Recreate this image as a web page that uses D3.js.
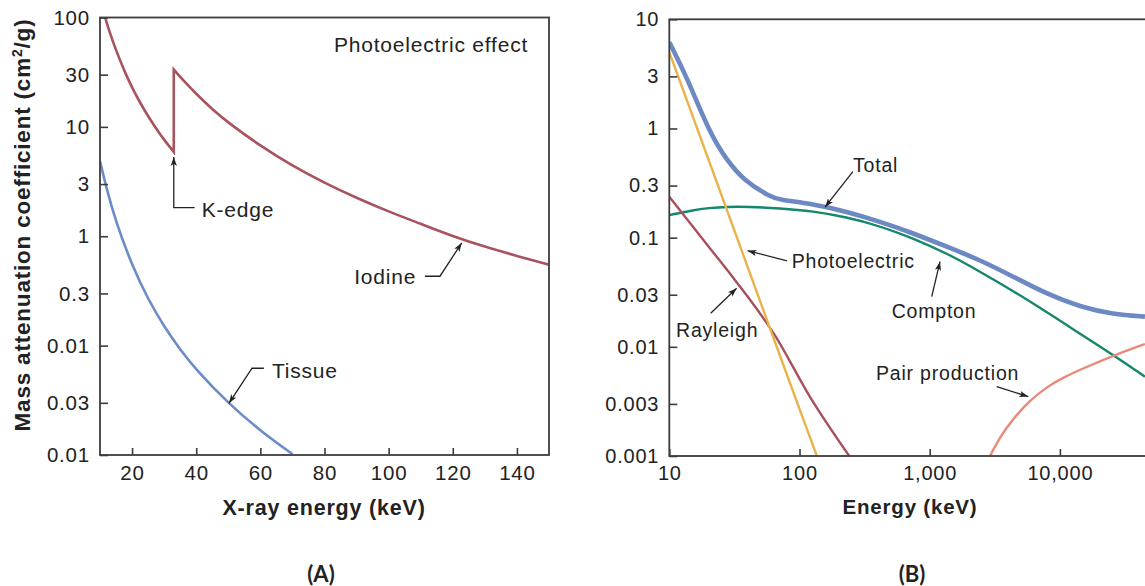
<!DOCTYPE html>
<html><head><meta charset="utf-8">
<script src="https://cdn.jsdelivr.net/npm/d3@7"></script>
<style>
body{margin:0;background:#fff;}
svg{display:block;}
text{font-family:"Liberation Sans",Arial,sans-serif;fill:#222;}
.pa .tick text{font-size:20.5px;letter-spacing:0.8px;}
.pb .tick text{font-size:20px;letter-spacing:0.8px;}
.pa .lab{font-size:21px;letter-spacing:0.8px;}
.pb .lab{font-size:19.5px;letter-spacing:0.8px;}
.title{font-weight:bold;letter-spacing:0.8px;}
.panel{font-family:Lato,"Open Sans",sans-serif;font-size:22px;font-weight:bold;}
</style></head>
<body>
<svg id="chart" width="1145" height="586"></svg>
<script>
// ---------- Panel A data ----------
const iodineLowE  = [11.6, 13, 15, 18, 20, 22.5, 25, 28, 30, 33];
const iodineLowV  = [100, 73, 50, 30.4, 22.9, 16.6, 12.5, 9.2, 7.6, 5.9];
const iodineHighE = [33, 36, 40, 45, 50, 60, 70, 80, 90, 100, 110, 120, 130, 140, 150];
const iodineHighV = [33.5, 26.5, 20, 14.5, 10.9, 6.7, 4.4, 3.07, 2.24, 1.68, 1.3, 1.0, 0.8, 0.66, 0.55];
const tissueE = [10, 12, 15, 20, 25, 30, 35, 40, 50, 60, 70];
const tissueV = [4.86, 2.75, 1.34, 0.54, 0.265, 0.149, 0.092, 0.060, 0.0297, 0.0166, 0.0102];
const aXTicks = [20, 40, 60, 80, 100, 120, 140];
const aYTicks = [100, 30, 10, 3, 1, 0.3, 0.1, 0.03, 0.01];
const aYTickLabels = ["100", "30", "10", "3", "1", "0.3", "0.01", "0.03", "0.01"];

// ---------- Panel B data ----------
const totalE = [10, 13.6, 20.5, 27.6, 37, 59.3, 70, 127, 230, 415, 745, 1350, 2430, 4370, 7900, 14300, 25600, 45000];
const totalV = [6.16, 2.98, 0.90, 0.515, 0.338, 0.237, 0.222, 0.2035, 0.173, 0.140, 0.110, 0.0827, 0.0625, 0.044, 0.0305, 0.0232, 0.0198, 0.0189];
const comptonE = [10, 15, 20, 28, 40, 70, 127, 230, 400, 745, 1350, 2430, 4370, 7900, 12500, 25700, 45000];
const comptonV = [0.161, 0.178, 0.187, 0.192, 0.192, 0.186, 0.175, 0.154, 0.13, 0.0987, 0.072, 0.049, 0.0325, 0.0209, 0.0146, 0.00843, 0.00533];
const photoE = [10, 15, 20, 30, 50, 70, 100, 136];
const photoV = [5.0, 1.33, 0.52, 0.138, 0.0259, 0.0086, 0.0027, 0.001];
const rayleighE = [10, 20, 31.9, 64.6, 120, 241];
const rayleighV = [0.237, 0.083, 0.041, 0.0128, 0.0035, 0.001];
const pairE = [2905, 3500, 4385, 5870, 8000, 10620, 17020, 25700, 45000];
const pairV = [0.001, 0.00153, 0.0022, 0.00322, 0.00432, 0.00526, 0.00676, 0.00831, 0.0106];
const bXTicks = [10, 100, 1000, 10000];
const bXTickLabels = ["10", "100", "1,000", "10,000"];
const bYTicks = [10, 3, 1, 0.3, 0.1, 0.03, 0.01, 0.003, 0.001];
const bYTickLabels = ["10", "3", "1", "0.3", "0.1", "0.03", "0.01", "0.003", "0.001"];

const svg = d3.select("#chart");
const frameColor = "#3c3c3c";

svg.append("defs").append("marker")
  .attr("id", "arr").attr("viewBox", "0 0 10 10").attr("refX", 10).attr("refY", 5)
  .attr("markerWidth", 9).attr("markerHeight", 9).attr("markerUnits", "userSpaceOnUse")
  .attr("orient", "auto")
  .append("path").attr("d", "M0,1.5 L10,5 L0,8.5 L2.5,5 Z").attr("fill", "#222");

function zip(E, V) { return E.map((e, i) => ({e: e, v: V[i]})); }

function frame(g, x, y) {
  const [x0, x1] = x.range(), [y0, y1] = y.range();
  g.append("rect").attr("x", x0).attr("y", y1).attr("width", x1 - x0).attr("height", y0 - y1)
    .attr("fill", "none").attr("stroke", frameColor).attr("stroke-width", 1.8);
}
function clip(id, x, y) {
  const [x0, x1] = x.range(), [y0, y1] = y.range();
  svg.select("defs").append("clipPath").attr("id", id).append("rect")
    .attr("x", x0).attr("y", y1).attr("width", x1 - x0).attr("height", y0 - y1);
}
function axes(g, x, y, xt, xl, yt, yl) {
  const [x0] = x.range(), [y0] = y.range();
  const ay = g.append("g").attr("transform", `translate(${x0},0)`)
    .call(d3.axisLeft(y).tickValues(yt).tickFormat((d, i) => yl[i]).tickSizeInner(-8).tickSizeOuter(0).tickPadding(10));
  const ax = g.append("g").attr("transform", `translate(0,${y0})`)
    .call(d3.axisBottom(x).tickValues(xt).tickFormat((d, i) => xl[i]).tickSizeInner(-7).tickSizeOuter(0).tickPadding(10));
  [ax, ay].forEach(a => {
    a.select(".domain").remove();
    a.selectAll(".tick line").attr("stroke", frameColor).attr("stroke-width", 1.6);
    a.selectAll(".tick text").attr("fill", "#222");
    a.attr("font-family", null).attr("font-size", null);
  });
}
function leader(g, x, y, pts) {
  g.append("path")
    .attr("d", d3.line().x(p => x(p[0])).y(p => y(p[1]))(pts))
    .attr("fill", "none").attr("stroke", "#222").attr("stroke-width", 1.3)
    .attr("marker-end", "url(#arr)");
}
function label(g, x, y, e, v, txt, anchor) {
  g.append("text").attr("class", "lab").attr("x", x(e)).attr("y", y(v))
    .attr("dy", "0.35em").attr("text-anchor", anchor || "start").text(txt);
}
function series(g, line, E, V, color, width) {
  g.append("path").attr("d", line(zip(E, V))).attr("fill", "none")
    .attr("stroke", color).attr("stroke-width", width);
}

// ================= Panel A =================
const xA = d3.scaleLinear().domain([10, 150]).range([100, 549]);
const yA = d3.scaleLog().domain([0.01, 100]).range([455, 17.5]);
const gA = svg.append("g").attr("class", "pa");
clip("clipA", xA, yA);
const lineA = d3.line().x(d => xA(d.e)).y(d => yA(d.v)).curve(d3.curveBasis);
const gAc = gA.append("g").attr("clip-path", "url(#clipA)");
const iodPath = lineA(zip(iodineLowE, iodineLowV)) + lineA(zip(iodineHighE, iodineHighV)).replace(/^M/, "L");
gAc.append("path").attr("d", iodPath).attr("fill", "none").attr("stroke", "#a8545e").attr("stroke-width", 2.6);
series(gAc, lineA, tissueE, tissueV, "#6b8cc6", 2.6);
frame(gA, xA, yA);
axes(gA, xA, yA, aXTicks, aXTicks.map(String), aYTicks, aYTickLabels);

label(gA, xA, yA, 143.5, 57, "Photoelectric effect", "end");
leader(gA, xA, yA, [[39.5, 1.83], [33, 1.83], [33, 5.3]]);
label(gA, xA, yA, 41.7, 1.75, "K-edge");
label(gA, xA, yA, 108.6, 0.43, "Iodine", "end");
leader(gA, xA, yA, [[111.3, 0.431], [116.0, 0.431], [122.8, 0.87]]);
label(gA, xA, yA, 63.6, 0.0596, "Tissue");
leader(gA, xA, yA, [[61.1, 0.0621], [57.4, 0.0621], [50.2, 0.0297]]);

svg.append("text").attr("class", "title").style("font-size", "21.5px")
  .attr("x", 324).attr("y", 507).attr("dy", "0.35em")
  .attr("text-anchor", "middle").text("X-ray energy (keV)");
svg.append("text").attr("class", "title").style("font-size", "22.5px")
  .attr("transform", "translate(22,225) rotate(-90)")
  .attr("dy", "0.35em").attr("text-anchor", "middle")
  .html('Mass attenuation coefficient (cm<tspan baseline-shift="super" font-size="14px">2</tspan>/g)');
svg.append("text").attr("class", "panel").attr("x", 321).attr("y", 574).attr("dy", "0.35em")
  .attr("text-anchor", "middle").text("(A)");

// ================= Panel B =================
const xB = d3.scaleLog().domain([10, 50000]).range([669.3, 669.3 + 130.2 * Math.log10(5000)]);
const yB = d3.scaleLog().domain([0.001, 10]).range([456, 19.3]);
const gB = svg.append("g").attr("class", "pb");
clip("clipB", xB, yB);
const lineB = d3.line().x(d => xB(d.e)).y(d => yB(d.v)).curve(d3.curveBasis);
const lineBs = d3.line().x(d => xB(d.e)).y(d => yB(d.v)).curve(d3.curveMonotoneX);
const gBc = gB.append("g").attr("clip-path", "url(#clipB)");
series(gBc, lineB, comptonE, comptonV, "#14876c", 2.4);
series(gBc, lineBs, rayleighE, rayleighV, "#a8505c", 2.4);
series(gBc, lineBs, photoE, photoV, "#eab24a", 2.4);
series(gBc, lineB, pairE, pairV, "#ec8878", 2.4);
series(gBc, lineB, totalE, totalV, "#ffffff", 6.5);
series(gBc, lineB, totalE, totalV, "#6d89c4", 4.6);
frame(gB, xB, yB);
axes(gB, xB, yB, bXTicks, bXTickLabels, bYTicks, bYTickLabels);

label(gB, xB, yB, 257.6, 0.463, "Total");
leader(gB, xB, yB, [[257, 0.402], [157, 0.19]]);
label(gB, xB, yB, 87.1, 0.0603, "Photoelectric");
leader(gB, xB, yB, [[80.2, 0.0612], [39.9, 0.076]]);
label(gB, xB, yB, 510.5, 0.021, "Compton");
leader(gB, xB, yB, [[1036, 0.0288], [1200, 0.0603]]);
label(gB, xB, yB, 11.26, 0.01428, "Rayleigh");
leader(gB, xB, yB, [[20.8, 0.0203], [32.9, 0.0344]]);
label(gB, xB, yB, 387, 0.00577, "Pair production");
leader(gB, xB, yB, [[3269, 0.00432], [5718, 0.0035]]);

svg.append("text").attr("class", "title").style("font-size", "20.5px")
  .attr("x", 910).attr("y", 507).attr("dy", "0.35em")
  .attr("text-anchor", "middle").text("Energy (keV)");
svg.append("text").attr("class", "panel").attr("x", 912).attr("y", 574).attr("dy", "0.35em")
  .attr("text-anchor", "middle").text("(B)");
</script>
</body></html>
